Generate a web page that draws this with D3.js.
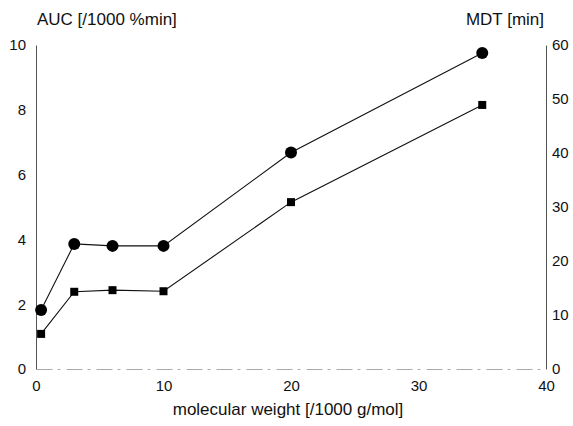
<!DOCTYPE html>
<html><head><meta charset="utf-8">
<script src="https://cdn.jsdelivr.net/npm/d3@7"></script>
<style>
html,body{margin:0;padding:0;background:#fff;}
text{font-family:"Liberation Sans",Arial,Helvetica,sans-serif;fill:#111;}
</style></head>
<body>
<svg id="chart" width="573" height="426"></svg>
<script>
// Data
const molWeight = [0.4, 3, 6, 10, 20, 35];
const aucValues = [1.82, 3.86, 3.80, 3.80, 6.68, 9.75];   // AUC [/1000 %min], left axis, circles
const mdtValues = [6.5, 14.3, 14.6, 14.4, 30.9, 48.9];    // MDT [min], right axis, squares
const xTicks = [0, 10, 20, 30, 40];
const aucTicks = [0, 2, 4, 6, 8, 10];
const mdtTicks = [0, 10, 20, 30, 40, 50, 60];

const svg = d3.select("#chart");
const x = d3.scaleLinear().domain([0, 40]).range([36, 546]);
const yL = d3.scaleLinear().domain([0, 10]).range([369, 45]);
const yR = d3.scaleLinear().domain([0, 60]).range([369, 45]);

const FONT = "Liberation Sans, Arial, sans-serif";

// Axes
const gx = svg.append("g").attr("transform", "translate(0,369)")
  .call(d3.axisBottom(x).tickValues(xTicks).tickSize(0).tickPadding(11).tickFormat(d3.format("d")));
gx.select(".domain").attr("stroke", "#aaa").attr("stroke-dasharray", "16,5,3,6").attr("stroke-width", 1);
gx.selectAll("text").attr("font-size", 15).attr("font-family", FONT).attr("fill", "#111");

const gl = svg.append("g").attr("transform", "translate(36,0)")
  .call(d3.axisLeft(yL).tickValues(aucTicks).tickSize(0).tickPadding(10).tickFormat(d3.format("d")));
gl.select(".domain").attr("stroke", "#555").attr("stroke-width", 1);
gl.selectAll("text").attr("font-size", 15).attr("font-family", FONT).attr("fill", "#111");

const gr = svg.append("g").attr("transform", "translate(546,0)")
  .call(d3.axisRight(yR).tickValues(mdtTicks).tickSize(0).tickPadding(6).tickFormat(d3.format("d")));
gr.select(".domain").attr("stroke", "#555").attr("stroke-width", 1);
gr.selectAll("text").attr("font-size", 15).attr("font-family", FONT).attr("fill", "#111");

// Lines
const aucData = molWeight.map((m, i) => ({m, v: aucValues[i]}));
const mdtData = molWeight.map((m, i) => ({m, v: mdtValues[i]}));

svg.append("path").datum(aucData)
  .attr("fill", "none").attr("stroke", "#111").attr("stroke-width", 1.1)
  .attr("d", d3.line().x(d => x(d.m)).y(d => yL(d.v)));
svg.append("path").datum(mdtData)
  .attr("fill", "none").attr("stroke", "#111").attr("stroke-width", 1.1)
  .attr("d", d3.line().x(d => x(d.m)).y(d => yR(d.v)));

svg.selectAll("circle.auc").data(aucData).enter().append("circle")
  .attr("class", "auc").attr("cx", d => x(d.m)).attr("cy", d => yL(d.v)).attr("r", 6).attr("fill", "#000");
svg.selectAll("rect.mdt").data(mdtData).enter().append("rect")
  .attr("class", "mdt").attr("x", d => x(d.m) - 4).attr("y", d => yR(d.v) - 4)
  .attr("width", 8).attr("height", 8).attr("fill", "#000");

// Titles
svg.append("text").attr("x", 37).attr("y", 25).attr("font-size", 17).text("AUC [/1000 %min]");
svg.append("text").attr("x", 544).attr("y", 25).attr("font-size", 17).attr("text-anchor", "end").text("MDT  [min]");
svg.append("text").attr("x", 288).attr("y", 415).attr("font-size", 17).attr("text-anchor", "middle").text("molecular weight  [/1000 g/mol]");
</script>
</body></html>
